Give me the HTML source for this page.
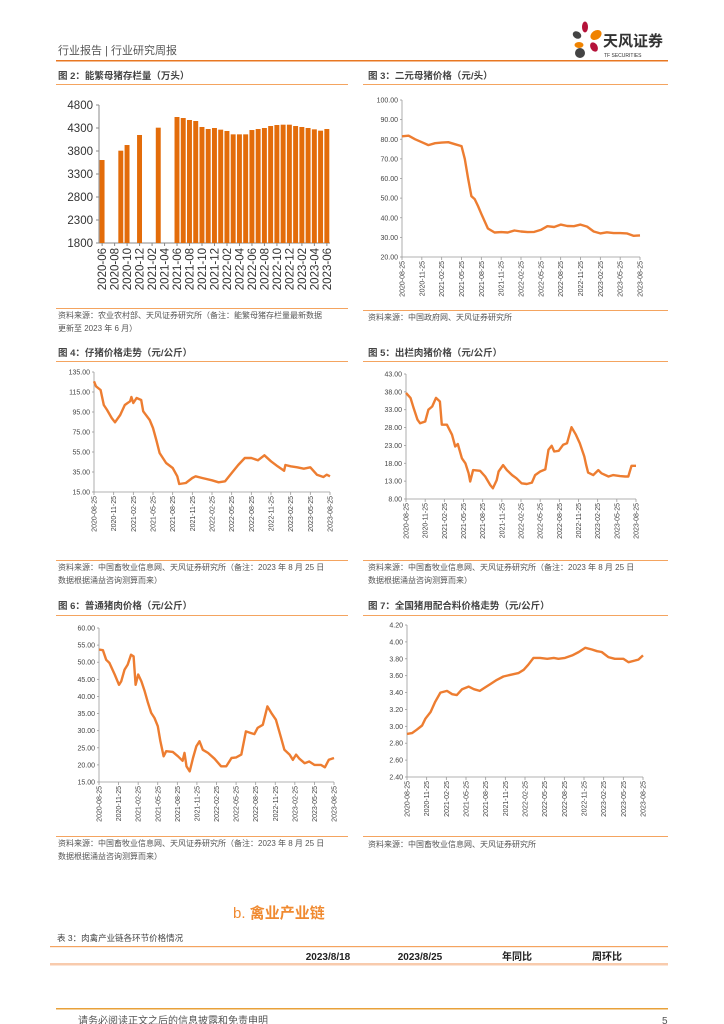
<!DOCTYPE html>
<html><head><meta charset="utf-8">
<style>
html,body{margin:0;padding:0;background:#fff;}
svg{display:block;font-family:"Liberation Sans","Noto Sans CJK SC",sans-serif;}
</style></head>
<body>
<svg id="pg" width="724" height="1024" viewBox="0 0 724 1024">
  <text x="58" y="54" font-size="11" fill="#555">行业报告 | 行业研究周报</text>
  <rect x="56" y="60" width="612" height="1.5" fill="#E87722"/>
  <g>
    <ellipse cx="585" cy="27" rx="3" ry="5.5" fill="#B5123A"/>
    <ellipse cx="577" cy="35" rx="4.5" ry="3.5" fill="#444" transform="rotate(30 577 35)"/>
    <ellipse cx="596" cy="35" rx="6" ry="4.5" fill="#F08300" transform="rotate(-35 596 35)"/>
    <ellipse cx="579" cy="45" rx="4.5" ry="3" fill="#F08300"/>
    <ellipse cx="594" cy="47" rx="3.5" ry="5" fill="#B5123A" transform="rotate(-30 594 47)"/>
    <circle cx="580" cy="53" r="5" fill="#444"/>
    <text x="603" y="46" font-size="15" font-weight="bold" fill="#333">天风证券</text>
    <text x="604" y="57" font-size="5" fill="#333">TF SECURITIES</text>
  </g>

  <text x="58" y="79" font-size="9.5" font-weight="bold" fill="#444">图 2：能繁母猪存栏量（万头）</text>
  <rect x="56" y="84" width="292" height="1" fill="#F4A460"/>
  <text x="368" y="79" font-size="9.5" font-weight="bold" fill="#444">图 3：二元母猪价格（元/头）</text>
  <rect x="363" y="84" width="305" height="1" fill="#F4A460"/>

  <rect x="56" y="308" width="292" height="1" fill="#F4A460"/>
  <text x="58" y="318" font-size="8" fill="#555">资料来源：农业农村部、天风证券研究所（备注：能繁母猪存栏量最新数据</text>
  <text x="58" y="331" font-size="8" fill="#555">更新至 2023 年 6 月）</text>
  <rect x="363" y="310" width="305" height="1" fill="#F4A460"/>
  <text x="368" y="320" font-size="8" fill="#555">资料来源：中国政府网、天风证券研究所</text>

  <text x="58" y="356" font-size="9.5" font-weight="bold" fill="#444">图 4：仔猪价格走势（元/公斤）</text>
  <rect x="56" y="361" width="292" height="1" fill="#F4A460"/>
  <text x="368" y="356" font-size="9.5" font-weight="bold" fill="#444">图 5：出栏肉猪价格（元/公斤）</text>
  <rect x="363" y="361" width="305" height="1" fill="#F4A460"/>

  <rect x="56" y="560" width="292" height="1" fill="#F4A460"/>
  <text x="58" y="570" font-size="8" fill="#555">资料来源：中国畜牧业信息网、天风证券研究所（备注：2023 年 8 月 25 日</text>
  <text x="58" y="583" font-size="8" fill="#555">数据根据涌益咨询测算而来）</text>
  <rect x="363" y="560" width="305" height="1" fill="#F4A460"/>
  <text x="368" y="570" font-size="8" fill="#555">资料来源：中国畜牧业信息网、天风证券研究所（备注：2023 年 8 月 25 日</text>
  <text x="368" y="583" font-size="8" fill="#555">数据根据涌益咨询测算而来）</text>

  <text x="58" y="609" font-size="9.5" font-weight="bold" fill="#444">图 6：普通猪肉价格（元/公斤）</text>
  <rect x="56" y="615" width="292" height="1" fill="#F4A460"/>
  <text x="368" y="609" font-size="9.5" font-weight="bold" fill="#444">图 7：全国猪用配合料价格走势（元/公斤）</text>
  <rect x="363" y="615" width="305" height="1" fill="#F4A460"/>

  <rect x="56" y="836" width="292" height="1" fill="#F4A460"/>
  <text x="58" y="846" font-size="8" fill="#555">资料来源：中国畜牧业信息网、天风证券研究所（备注：2023 年 8 月 25 日</text>
  <text x="58" y="859" font-size="8" fill="#555">数据根据涌益咨询测算而来）</text>
  <rect x="363" y="836" width="305" height="1" fill="#F4A460"/>
  <text x="368" y="847" font-size="8" fill="#555">资料来源：中国畜牧业信息网、天风证券研究所</text>

  <text x="233" y="918" font-size="15" fill="#F08A30">b.  <tspan font-weight="bold">禽业产业链</tspan></text>
  <text x="57" y="941" font-size="8.5" fill="#444">表 3：肉禽产业链各环节价格情况</text>
  <rect x="50" y="946" width="618" height="1.2" fill="#F4A460"/>
  <g font-size="10" font-weight="bold" fill="#222" text-anchor="middle">
    <text x="328" y="960">2023/8/18</text>
    <text x="420" y="960">2023/8/25</text>
    <text x="517" y="960">年同比</text>
    <text x="607" y="960">周环比</text>
  </g>
  <rect x="50" y="963" width="618" height="2.5" fill="#F8CBAD"/>

  <rect x="56" y="1008" width="612" height="1.5" fill="#E8A13A"/>
  <text x="78" y="1024" font-size="10" fill="#555">请务必阅读正文之后的信息披露和免责申明</text>
  <text x="662" y="1024" font-size="10" fill="#555">5</text>

  <g id="charts"></g>
</svg>
<script>
const c2Cats = ['2020-06','2020-07','2020-08','2020-09','2020-10','2020-11','2020-12','2021-01','2021-02','2021-03','2021-04','2021-05','2021-06','2021-07','2021-08','2021-09','2021-10','2021-11','2021-12','2022-01','2022-02','2022-03','2022-04','2022-05','2022-06','2022-07','2022-08','2022-09','2022-10','2022-11','2022-12','2023-01','2023-02','2023-03','2023-04','2023-05','2023-06'];
const c2Vals = [3604,null,null,3807,3930,null,4148,null,null,4307,null,null,4539,4517,4474,4452,4322,4278,4300,4264,4235,4162,4162,4162,4256,4278,4300,4343,4365,4372,4372,4343,4322,4300,4271,4242,4278];
const c2Ticks = [1800,2300,2800,3300,3800,4300,4800];

const dateLabels = ['2020-08-25','2020-11-25','2021-02-25','2021-05-25','2021-08-25','2021-11-25','2022-02-25','2022-05-25','2022-08-25','2022-11-25','2023-02-25','2023-05-25','2023-08-25'];

const c3Months = [0,1,2,3,4,5,6,7,8,9,9.5,10,10.5,11,11.5,12,13,14,15,16,17,18,19,20,21,22,23,24,25,26,27,28,29,30,31,32,33,34,35,36];
const c3Vals = [81.5,81.8,80,78.5,77,78,78.3,78.5,77.5,76.5,70,60,51,49.5,46,42,34.5,32.5,32.7,32.5,33.5,33,32.7,32.8,33.8,35.7,35.3,36.5,35.8,35.7,36.5,35.5,33,32,32.6,32.2,32.2,32,30.8,31];
const c3Ticks = ['20.00','30.00','40.00','50.00','60.00','70.00','80.00','90.00','100.00'];

const c4Months = [0,0.3,1,1.5,2,2.7,3.2,4,4.7,5.5,5.7,6,6.5,7.2,7.5,8.5,9,9.5,10,11,12,12.7,13,14,15,15.5,16.5,18,19,20,21,22,23,24,25,26,27,28,29,29.2,30,31,32,33,34,35,35.5,36];
const c4Vals = [125.7,120.7,117,102,97,89,84.7,92,102,105.7,110,104,109,107,95.7,87,79,67,54,44,39,30.7,23,24,29,30.7,29,26.7,24.7,25.7,34,42,49,49,46.7,51.7,45.7,40.7,36.3,42,40.7,39.7,38.3,39.7,32.3,30,32.3,30.7];
const c4Ticks = ['15.00','35.00','55.00','75.00','95.00','115.00','135.00'];

const c5Months = [0,0.7,1.2,1.8,2.2,3,3.5,4.1,4.7,5.3,5.6,6.4,7.2,7.7,8.1,8.75,9.3,9.8,10.05,10.5,11.6,12.4,13.2,13.6,14.2,14.5,15.2,15.8,16.6,17.3,18.1,18.9,19.7,20.2,21,21.8,22.3,22.8,23.2,23.9,24.6,25.2,25.9,26.6,27.2,27.9,28.2,28.5,29.3,30.1,30.6,31.7,32.4,33.5,34.3,34.8,35.3,36];
const c5Vals = [37.7,36.3,33.4,30.2,29.2,29.7,33,33.9,36.3,35.3,28.8,28.8,26,22.7,23.4,19.4,18,15.2,12.9,16.1,15.9,14.3,11.9,11,13.3,15.7,17.5,16.1,14.7,13.8,12.4,12.2,12.6,14.7,15.7,16.3,21.8,22.9,21.3,21.5,23.2,23.6,28.1,26,23.6,19.9,17.5,15.4,14.7,16.1,15.2,14.3,14.7,14.4,14.3,14.3,17.3,17.3];
const c5Ticks = ['8.00','13.00','18.00','23.00','28.00','33.00','38.00','43.00'];

const c6Months = [0,0.6,1.1,1.6,2.4,3.06,3.4,3.9,4.4,4.9,5.3,5.6,6,6.5,7,7.5,8,8.5,9,9.4,9.9,10.3,11.3,12.1,12.8,13.1,13.4,13.9,14.4,14.9,15.4,15.9,16.7,17.7,18.7,19.5,20.3,21,21.8,22.5,23.3,23.8,24.3,25.1,25.8,26.4,27.1,27.9,28.4,29.2,29.7,30.2,30.7,31.5,32.2,33,34,34.6,35.2,36];
const c6Vals = [53.7,53.5,50.7,49.8,46.4,43.4,44.4,47.8,49.3,52.2,51.7,43.4,46.4,44.4,41.5,38.1,35.2,33.7,31.3,26.9,22.5,24,23.8,22.5,21.2,23.5,19.6,18.1,22,25.4,26.9,24.4,23.5,21.8,19.6,19.6,22,22.2,23,29.8,29.3,29,30.8,31.7,37.1,35.2,33.2,27.9,24.4,23,21.5,23,21.8,20.5,21,20,20,19.3,21.5,22];
const c6Ticks = ['15.00','20.00','25.00','30.00','35.00','40.00','45.00','50.00','55.00','60.00'];

const c7Months = [0,0.76,1.5,2.3,2.8,3.6,4.3,5.1,6.1,6.9,7.6,8.4,9.4,10.2,11.1,11.9,12.7,13.7,14.7,15.8,17,17.8,18.5,19.3,20.3,21.4,22.4,23.1,24.1,25.2,26.2,27.2,28.2,29,29.7,30.7,31.7,33,33.8,34.8,35.3,36];
const c7Vals = [2.91,2.92,2.96,3.01,3.09,3.17,3.29,3.40,3.42,3.38,3.37,3.44,3.47,3.44,3.42,3.46,3.50,3.55,3.59,3.61,3.63,3.67,3.73,3.81,3.81,3.80,3.81,3.80,3.81,3.84,3.88,3.93,3.91,3.89,3.88,3.82,3.80,3.80,3.76,3.78,3.79,3.84];
const c7Ticks = ['2.40','2.60','2.80','3.00','3.20','3.40','3.60','3.80','4.00','4.20'];

const NS = 'http://www.w3.org/2000/svg';
const root = document.getElementById('charts');
function mk(tag, parent, attrs) {
  const el = document.createElementNS(NS, tag);
  for (const k in attrs) el.setAttribute(k, attrs[k]);
  parent.appendChild(el);
  return el;
}

(function(){
  const g = mk('g', root, {});
  
  
  const X0 = 99, X1 = 330, Y0 = 243, Y1 = 105, vmin = 1800, vmax = 4800;
  const yS = v => Y0 - (v - vmin) / (vmax - vmin) * (Y0 - Y1);
  const slot = (X1 - X0) / c2Cats.length;
  const xS = i => X0 + i * slot;
  const ax = mk('line', g, {x1:X0, y1:Y1, x2:X0, y2:Y0, stroke:'#888', 'stroke-width':1});
  
  
  const bx = mk('line', g, {x1:X0, y1:Y0, x2:X1, y2:Y0, stroke:'#888', 'stroke-width':1});
  
  
  c2Ticks.forEach(t => {
    const y = yS(t);
    mk('line', g, {x1:X0-3, y1:y, x2:X0, y2:y, stroke:'#888'});
    const tx = mk('text', g, {x:X0-6, y:y+4, 'font-size':11.5, fill:'#333', 'text-anchor':'end'});
    tx.textContent = t;
    
    
  });
  c2Vals.forEach((v, i) => {
    if (v == null) return;
    const r = mk('rect', g, {x:xS(i)+0.6, y:yS(v), width:slot-1.3, height:Y0-yS(v), fill:'#E36C0A'});
    
    
  });
  c2Cats.forEach((c, i) => {
    if (i % 2) return;
    const cx = xS(i) + slot/2;
    mk('line', g, {x1:cx, y1:Y0, x2:cx, y2:Y0+3, stroke:'#888'});
    const tx = mk('text', g, {x:0, y:0, 'font-size':11.5, fill:'#333', 'text-anchor':'end', transform:`translate(${cx+4},${Y0+5}) rotate(-90)`});
    tx.textContent = c;
    
    
  });
})();

function lineChart(name, months, vals, ticks, labels, X0, X1, Y0, Y1) {
  const g = mk('g', root, {});
  
  
  const tv = ticks.map(Number);
  const vmin = tv[0], vmax = tv[tv.length-1];
  const yS = v => Y0 - (v - vmin) / (vmax - vmin) * (Y0 - Y1);
  const xS = m => X0 + m / 36 * (X1 - X0);
  const ay = mk('line', g, {x1:X0, y1:Y1, x2:X0, y2:Y0, stroke:'#999', 'stroke-width':0.8});
  
  
  const axx = mk('line', g, {x1:X0, y1:Y0, x2:X1, y2:Y0, stroke:'#999', 'stroke-width':0.8});
  
  
  ticks.forEach((t, i) => {
    const y = yS(tv[i]);
    mk('line', g, {x1:X0-2, y1:y, x2:X0, y2:y, stroke:'#999', 'stroke-width':0.8});
    const tx = mk('text', g, {x:X0-4, y:y+2.5, 'font-size':7, fill:'#444', 'text-anchor':'end'});
    tx.textContent = t;
    
    
  });
  labels.forEach((l, i) => {
    const x = xS(i * 3);
    mk('line', g, {x1:x, y1:Y0, x2:x, y2:Y0+3, stroke:'#999', 'stroke-width':0.8});
    const tx = mk('text', g, {x:0, y:0, 'font-size':7, fill:'#444', 'text-anchor':'end', transform:`translate(${x+2.5},${Y0+4}) rotate(-90)`});
    tx.textContent = l;
    
    
  });
  const d = months.map((m, i) => (i ? 'L' : 'M') + xS(m).toFixed(1) + ',' + yS(vals[i]).toFixed(1)).join(' ');
  const p = mk('path', g, {d:d, fill:'none', stroke:'#ED7D31', 'stroke-width':2.4, 'stroke-linejoin':'round'});
  
  
}
lineChart('fig3-line-chart', c3Months, c3Vals, c3Ticks, dateLabels, 402, 640, 257, 100);
lineChart('fig4-line-chart', c4Months, c4Vals, c4Ticks, dateLabels, 94, 330, 492, 372);
lineChart('fig5-line-chart', c5Months, c5Vals, c5Ticks, dateLabels, 406, 636, 499, 374);
lineChart('fig6-line-chart', c6Months, c6Vals, c6Ticks, dateLabels, 99, 334, 782, 628);
lineChart('fig7-line-chart', c7Months, c7Vals, c7Ticks, dateLabels, 407, 643, 777, 625);
</script>
</body></html>
